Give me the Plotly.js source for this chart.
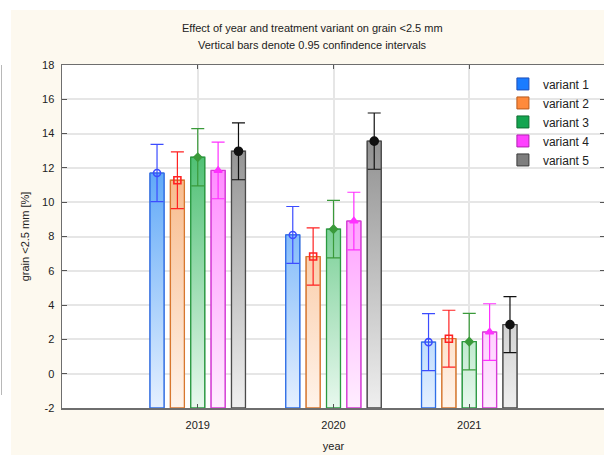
<!DOCTYPE html>
<html><head><meta charset="utf-8">
<script src="https://cdn.plot.ly/plotly-3.0.1.min.js"></script>
<style>
html,body{margin:0;padding:0;background:#fff;overflow:hidden;width:604px;height:455px;}
#bg{position:absolute;left:11px;top:10px;width:600px;height:450px;background:#fdf9ef;}
#edge{position:absolute;left:1px;top:65px;width:1px;height:330px;background:#b8b8b8;}
#chart{position:absolute;left:0;top:0;}
</style></head>
<body>
<div id="bg"></div><div id="edge"></div>
<div id="chart"></div>
<script>
// ---- data ----
const years = ['2019', '2020', '2021'];
const variants = ['variant 1', 'variant 2', 'variant 3', 'variant 4', 'variant 5'];
const v1 = [11.70, 8.09, 1.84];
const v2 = [11.28, 6.83, 2.04];
const v3 = [12.62, 8.43, 1.87];
const v4 = [11.85, 8.90, 2.43];
const v5 = [12.97, 13.56, 2.86];
const ci1 = [1.67, 1.66, 1.66];
const ci2 = [1.65, 1.67, 1.66];
const ci3 = [1.67, 1.68, 1.65];
const ci4 = [1.65, 1.68, 1.65];
const ci5 = [1.66, 1.64, 1.63];
const yTicks = [-2, 0, 2, 4, 6, 8, 10, 12, 14, 16, 18];
const yTickText = ['-2', '0', '2', '4', '6', '8', '10', '12', '14', '16', '18'];

// ---- style ----
const means = [v1, v2, v3, v4, v5];
const cis = [ci1, ci2, ci3, ci4, ci5];
const BASE = -2;
const SLOT = 0.15, HW = 0.0515;
const legendCol = ['#1a7cff', '#ff8a3c', '#14a550', '#ff40ff', '#7d7d7d'];
const legendLine = ['#1f4fb8', '#b85a1c', '#0f6e30', '#b020b0', '#3a3a3a'];
const gradDark = ['#55a3f7', '#f7b582', '#4cbf72', '#ff85ff', '#959595'];
const gradLight = ['#e5f0ff', '#fff3ea', '#e8f8ee', '#ffeeff', '#efefef'];
const outline = ['#2f6fe8', '#d8772e', '#2a9a40', '#d63ad6', '#4a4a4a'];
const errCol = ['#3c4cff', '#ff2222', '#3a9a3a', '#ff30ff', '#111111'];
const sym = ['circle-open', 'square-open', 'diamond', 'triangle-up', 'circle'];
const symSize = [7, 7, 6, 7, 8];

const xIdx = years.map((_, j) => j);
const traces = [];
// bar traces (legend)
means.forEach((m, i) => {
  const off = (i - 2) * SLOT;
  traces.push({
    type: 'bar', name: variants[i], x: xIdx, y: m.map(v => v - BASE), base: BASE,
    offset: off - HW, width: 2 * HW,
    marker: {color: legendCol[i], line: {color: legendLine[i], width: 1}},
    hoverinfo: 'skip', showlegend: true
  });
});
// gradient fills
means.forEach((m, i) => {
  const off = (i - 2) * SLOT;
  const xs = [], ys = [];
  m.forEach((v, j) => {
    const xl = j + off - HW, xr = j + off + HW;
    xs.push(xl, xl, xr, xr, xl, null);
    ys.push(BASE, v, v, BASE, BASE, null);
  });
  traces.push({
    type: 'scatter', mode: 'lines', x: xs, y: ys, fill: 'toself',
    fillgradient: {type: 'vertical', colorscale: [[0, gradLight[i]], [1, gradDark[i]]], start: BASE, stop: 13},
    line: {color: outline[i], width: 1.3}, showlegend: false, hoverinfo: 'skip'
  });
});
// means with CI
means.forEach((m, i) => {
  const off = (i - 2) * SLOT;
  traces.push({
    type: 'scatter', mode: 'markers', x: xIdx.map(j => j + off), y: m,
    marker: {symbol: sym[i], size: symSize[i], color: errCol[i], line: {color: errCol[i], width: 1.6}},
    error_y: {type: 'data', array: cis[i], visible: true, color: errCol[i], thickness: 1.2, width: 6.5},
    showlegend: false, hoverinfo: 'skip'
  });
});

const FONT = 'Liberation Sans, Arial, sans-serif';
const layout = {
  width: 607, height: 455,
  margin: {l: 62, r: 2, t: 65, b: 47},
  paper_bgcolor: 'rgba(0,0,0,0)', plot_bgcolor: '#ffffff',
  font: {family: FONT, size: 11, color: '#222'},
  showlegend: true,
  legend: {x: 0.812, xanchor: 'left', y: 0.834, yanchor: 'middle', bgcolor: 'rgba(255,255,255,0)',
           font: {family: FONT, size: 12, color: '#222'}, traceorder: 'normal'},
  xaxis: {
    range: [-1, 3], tickvals: xIdx, ticktext: years,
    showgrid: true, gridcolor: '#e6e6e6', gridwidth: 2, zeroline: false,
    showline: true, linecolor: '#6e6e6e', linewidth: 1.5, mirror: 'ticks',
    ticks: 'inside', ticklen: 4, tickcolor: '#555',
    ticklabelstandoff: 6,
    title: {text: 'year', font: {size: 11}, standoff: 12}
  },
  yaxis: {
    range: [-2, 18], tickvals: yTicks, ticktext: yTickText,
    showgrid: true, gridcolor: '#e6e6e6', gridwidth: 2, zeroline: false,
    showline: true, linecolor: '#6e6e6e', linewidth: 1.5, mirror: 'ticks',
    ticks: 'inside', ticklen: 5, tickcolor: '#555',
    ticklabelstandoff: 4,
    title: {text: 'grain <2.5 mm [%]', font: {size: 11}, standoff: 10}
  },
  annotations: [
    {xref: 'paper', yref: 'paper', x: (312 - 62) / 543, y: (408 - 28) / 343, xanchor: 'center', yanchor: 'middle',
     text: 'Effect of year and treatment variant on grain <2.5 mm', showarrow: false, font: {size: 11, color: '#222'}},
    {xref: 'paper', yref: 'paper', x: (312 - 62) / 543, y: (408 - 45) / 343, xanchor: 'center', yanchor: 'middle',
     text: 'Vertical bars denote 0.95 confindence intervals', showarrow: false, font: {size: 11, color: '#222'}}
  ]
};
Plotly.newPlot('chart', traces, layout, {displayModeBar: false, staticPlot: true});
</script>
</body></html>
